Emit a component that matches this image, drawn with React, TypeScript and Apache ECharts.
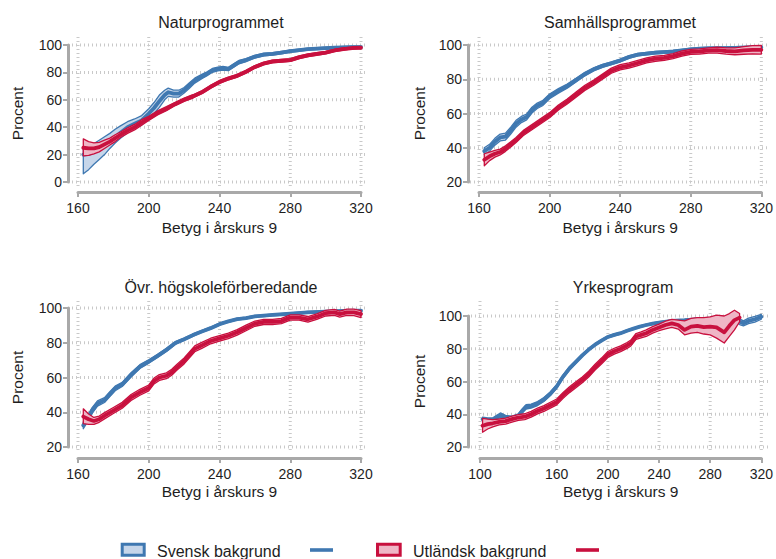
import React, { useEffect, useRef } from "react";
import * as echarts from "echarts";

const FONT = '"Liberation Sans", Arial, Helvetica, sans-serif';
const TEXT = "#1e1e1e";
const AXIS_GREY = "#a9a9a9";
const GRID_GREY = "#c9c9c9";
const BLUE = "#3f78b1";
const BLUE_FILL = "#c6d6ea";
const RED = "#c8103e";
const RED_FILL = "#efb6c6";

const X_NAME = "Betyg i årskurs 9";
const Y_NAME = "Procent";
const LEGEND_SV = "Svensk bakgrund";
const LEGEND_UT = "Utländsk bakgrund";

// Tick labels
const gpTicks = [160, 200, 240, 280, 320];
const yrkTicks = [100, 160, 200, 240, 280, 320];
const natYTicks = [0, 20, 40, 60, 80, 100];
const pctTicks = [20, 40, 60, 80, 100];

// Naturprogrammet – svensk bakgrund
const natSvX = [163, 166, 169, 172, 175, 178, 181, 184, 188, 192, 196, 200, 203, 206, 209, 211, 214, 217, 220, 223, 226, 230, 233, 236, 239, 242, 245, 248, 251, 255, 260, 265, 270, 275, 280, 285, 290, 295, 300, 305, 310, 315, 320];
const natSvMid = [20, 20.5, 22, 24, 26.5, 29.5, 32.5, 36, 40, 42.5, 45, 50, 54, 59, 63.5, 65.5, 64.5, 64.5, 67, 70.5, 74, 77, 79, 81.5, 82.5, 83, 82.5, 85, 87.5, 89, 91.5, 93, 93.5, 94.5, 95.5, 96.2, 97, 97.4, 97.7, 98, 98.2, 98.4, 98.5];
const natSvLo = [6, 9, 13, 16.5, 20, 24.5, 28.5, 32, 36, 39, 41.5, 46.5, 50, 54.5, 60, 62.5, 62, 62, 65, 68.5, 72.2, 75.4, 77.6, 80.1, 81.1, 81.6, 81.3, 83.8, 86.3, 87.9, 90.5, 92, 92.6, 93.6, 94.7, 95.4, 96.3, 96.7, 97, 97.3, 97.5, 97.7, 97.9];
const natSvHi = [26, 26, 28, 30.5, 33, 35.5, 38.5, 41, 44, 46, 48.5, 53.5, 58, 63.5, 67, 68.5, 67, 67, 69, 72.5, 75.8, 78.6, 80.4, 82.9, 83.9, 84.4, 83.7, 86.2, 88.7, 90.1, 92.5, 94, 94.4, 95.4, 96.3, 97, 97.7, 98.1, 98.4, 98.7, 98.9, 99.1, 99.1];

// Naturprogrammet – utländsk bakgrund
const natUtX = [163, 166, 169, 172, 175, 178, 181, 184, 188, 192, 196, 200, 205, 210, 215, 220, 225, 230, 235, 240, 245, 250, 255, 260, 265, 270, 275, 280, 285, 290, 295, 300, 305, 310, 315, 320];
const natUtMid = [25, 24.5, 24.5, 25.5, 27.5, 29.5, 32, 34.5, 37.5, 40, 43.5, 46.5, 50.5, 53.5, 57, 60, 62.5, 65.5, 69.5, 73, 75.5, 77.5, 80.5, 84, 86.5, 88, 88.5, 89, 91, 92.5, 93.5, 94.5, 96, 97, 97.8, 98];
const natUtLo = [19, 19.5, 20.5, 22, 24.5, 27, 29.5, 32.5, 35.5, 38, 41.5, 45, 49, 52, 55.8, 58.8, 61.3, 64.4, 68.4, 71.9, 74.5, 76.5, 79.5, 83, 85.5, 87, 87.5, 88, 90, 91.5, 92.5, 93.6, 95.2, 96.2, 97.1, 97.3];
const natUtHi = [31.5, 29.5, 28.5, 29, 30.5, 32, 34.5, 36.5, 39.5, 42, 45.5, 48, 52, 55, 58.2, 61.2, 63.7, 66.6, 70.6, 74.1, 76.5, 78.5, 81.5, 85, 87.5, 89, 89.5, 90, 92, 93.5, 94.5, 95.4, 96.8, 97.8, 98.5, 98.7];

// Samhällsprogrammet – svensk bakgrund
const samSvX = [163, 166, 169, 172, 175, 178, 181, 184, 187, 190, 193, 196, 200, 205, 210, 215, 220, 225, 230, 235, 240, 245, 250, 255, 260, 265, 270, 275, 280, 285, 290, 300, 310, 320];
const samSvMid = [38, 40, 43.5, 46, 46.5, 50, 54, 56.5, 58, 62, 64.5, 66, 70, 73.2, 76, 79.5, 83, 85.8, 87.8, 89.3, 90.9, 93, 94.4, 95, 95.5, 95.8, 96.2, 96.8, 97.5, 97.8, 98, 98.2, 98.5, 98.7];
const samSvLo = [36, 38, 41.5, 44, 44.5, 48, 52, 54.7, 56.3, 60.3, 62.9, 64.5, 68.6, 71.9, 74.8, 78.4, 82, 84.9, 86.9, 88.5, 90.1, 92.2, 93.7, 94.3, 94.8, 95.1, 95.5, 96.1, 96.8, 97.1, 97.3, 97.5, 97.8, 97.9];
const samSvHi = [40, 42, 45.5, 48, 48.5, 52, 56, 58.3, 59.7, 63.7, 66.1, 67.5, 71.4, 74.5, 77.2, 80.6, 84, 86.7, 88.7, 90.1, 91.7, 93.8, 95.1, 95.7, 96.2, 96.5, 96.9, 97.5, 98.2, 98.5, 98.7, 98.9, 99.2, 99.5];

// Samhällsprogrammet – utländsk bakgrund
const samUtX = [163, 166, 169, 172, 175, 178, 181, 185, 190, 195, 200, 205, 210, 215, 220, 225, 230, 235, 240, 245, 250, 255, 260, 265, 270, 275, 280, 285, 290, 295, 300, 305, 310, 315, 320];
const samUtMid = [33, 35, 36.5, 37.5, 39.5, 42, 44.5, 48.5, 52, 55.5, 59, 63.5, 67, 71, 75, 78, 81.5, 85, 87, 88, 89.5, 91, 92, 92.5, 93.5, 95, 96, 96.2, 96.8, 97, 96.5, 96.3, 96.8, 97.2, 97.2];
const samUtLo = [29.5, 32.5, 34.5, 35.8, 37.9, 40.5, 43, 47, 50.5, 54, 57.5, 62, 65.5, 69.5, 73.5, 76.5, 80, 83.5, 85.5, 86.5, 88, 89.5, 90.5, 91, 92, 93.5, 94.5, 94.7, 95.3, 95.3, 94.7, 94.3, 94.6, 94.8, 94.7];
const samUtHi = [36.5, 37.5, 38.5, 39.2, 41.1, 43.5, 46, 50, 53.5, 57, 60.5, 65, 68.5, 72.5, 76.5, 79.5, 83, 86.5, 88.5, 89.5, 91, 92.5, 93.5, 94, 95, 96.5, 97.5, 97.7, 98.3, 98.7, 98.3, 98.3, 99, 99.6, 99.7];

// Övr. högskoleförberedande – svensk bakgrund
const ovrSvX = [163, 166, 168, 171, 175, 178, 181, 185, 190, 195, 200, 205, 210, 215, 220, 225, 230, 235, 240, 245, 250, 255, 260, 265, 270, 280, 290, 300, 310, 320];
const ovrSvMid = [32.5, 37.3, 41, 45, 47, 50.4, 53.7, 56, 61.5, 66.3, 69.2, 72.5, 75.9, 79.8, 82, 84.4, 86.5, 88.4, 90.7, 92.3, 93.6, 94.2, 95.2, 95.6, 96, 96.7, 97.5, 97.9, 98.3, 98.5];
const ovrSvLo = [30.5, 35.5, 39.3, 43.5, 45.6, 49, 52.4, 54.8, 60.3, 65.2, 68.2, 71.6, 75, 79, 81.3, 83.7, 85.9, 87.8, 90.1, 91.8, 93.1, 93.7, 94.7, 95.1, 95.5, 96.2, 97, 97.4, 97.8, 98];
const ovrSvHi = [34.5, 39.1, 42.7, 46.5, 48.4, 51.8, 55, 57.2, 62.7, 67.4, 70.2, 73.4, 76.8, 80.6, 82.7, 85.1, 87.1, 89, 91.3, 92.8, 94.1, 94.7, 95.7, 96.1, 96.5, 97.2, 98, 98.4, 98.8, 99];

// Övr. högskoleförberedande – utländsk bakgrund
const ovrUtX = [163, 166, 169, 172, 175, 180, 185, 190, 195, 200, 203, 206, 210, 213, 216, 220, 223, 226, 230, 235, 240, 245, 250, 255, 260, 265, 270, 275, 280, 285, 290, 295, 300, 305, 308, 312, 316, 320];
const ovrUtMid = [37.5, 36, 35, 36, 38, 41, 44, 48.5, 51.5, 54, 58, 60, 61, 63, 66, 69.5, 73, 76.5, 78.5, 81, 82.5, 84, 86, 88.5, 91, 92, 92, 92.5, 94.5, 94.5, 93.5, 95, 97, 97.5, 96.5, 97.5, 97.5, 96.5];
const ovrUtLo = [33.5, 33, 33, 34.2, 36.2, 39.3, 42.3, 46.8, 49.8, 52.3, 56.3, 58.3, 59.3, 61.3, 64.3, 67.8, 71.3, 74.8, 76.8, 79.4, 80.9, 82.4, 84.4, 86.9, 89.5, 90.5, 90.5, 91, 93, 93, 91.9, 93.4, 95.4, 95.8, 94.8, 95.7, 95.6, 94.5];
const ovrUtHi = [42, 39, 37, 37.8, 39.8, 42.7, 45.7, 50.2, 53.2, 55.7, 59.7, 61.7, 62.7, 64.7, 67.7, 71.2, 74.7, 78.2, 80.2, 82.6, 84.1, 85.6, 87.6, 90.1, 92.5, 93.5, 93.5, 94, 96, 96, 95.1, 96.6, 98.6, 99.2, 98.2, 99.3, 99.4, 98.5];

// Yrkesprogram – svensk bakgrund
const yrkSvX = [102, 106, 110, 113, 116, 120, 125, 130, 133, 136, 140, 145, 150, 155, 160, 165, 170, 175, 180, 185, 190, 195, 200, 205, 210, 215, 220, 225, 230, 235, 240, 250, 260, 270, 280, 290, 295, 300, 303, 306, 310, 315, 320];
const yrkSvMid = [37, 36.5, 36.5, 38, 39.5, 38, 37.5, 39, 42, 44.5, 45, 46.5, 49, 52.5, 57, 63, 68, 72, 76, 79.5, 82.5, 85, 87.2, 88.5, 89.5, 91, 92.3, 93.5, 94.5, 95.3, 96, 97, 97.4, 98, 98.3, 98.2, 98, 97.4, 96.5, 95.5, 97, 98, 99.5];
const yrkSvLo = [35.7, 35.2, 35.2, 36.7, 38.2, 36.7, 36.2, 37.7, 40.7, 43.2, 43.8, 45.3, 47.8, 51.4, 55.9, 62, 67, 71.1, 75.2, 78.8, 81.8, 84.4, 86.6, 87.9, 89, 90.5, 91.8, 93, 94, 94.8, 95.5, 96.5, 96.8, 97.3, 97.5, 97.3, 96.8, 96, 94.8, 94, 95.3, 96.3, 98];
const yrkSvHi = [38.3, 37.8, 37.8, 39.3, 40.8, 39.3, 38.8, 40.3, 43.3, 45.8, 46.2, 47.7, 50.2, 53.6, 58.1, 64, 69, 72.9, 76.8, 80.2, 83.2, 85.6, 87.8, 89.1, 90, 91.5, 92.8, 94, 95, 95.8, 96.5, 97.5, 98, 98.7, 99.1, 99.1, 99.2, 98.8, 98.2, 97, 98.7, 99.7, 101];

// Yrkesprogram – utländsk bakgrund
const yrkUtX = [102, 106, 110, 115, 120, 125, 130, 135, 140, 145, 150, 155, 160, 165, 170, 175, 180, 185, 190, 195, 200, 205, 210, 215, 218, 222, 226, 230, 235, 240, 245, 250, 255, 260, 265, 270, 275, 280, 285, 291, 295, 299, 303];
const yrkUtMid = [33, 34, 34.5, 35.3, 35.8, 37, 38, 38.5, 40, 42, 43.5, 45.5, 47.5, 51.5, 55, 58, 61, 64.5, 68.8, 72.5, 76.5, 78.5, 80, 82, 83.5, 87.5, 88.5, 89.5, 91.5, 93, 94.5, 95.5, 94.5, 91.5, 93.5, 94, 93.2, 93.5, 93, 90, 94, 97.5, 99];
const yrkUtLo = [29, 31, 32.3, 33.5, 34, 35.2, 36.2, 36.7, 38.2, 40.2, 41.7, 43.7, 45.7, 49.7, 53.2, 56.2, 59.2, 62.7, 67, 70.7, 74.7, 76.7, 78.2, 80.2, 81.7, 85.7, 86.7, 87.5, 89.5, 91, 92.2, 93, 92, 88.5, 89.5, 90, 89, 88.5, 86.5, 83.5, 87.5, 91.5, 96.5];
const yrkUtHi = [37.5, 37, 36.7, 37.1, 37.6, 38.8, 39.8, 40.3, 41.8, 43.8, 45.3, 47.3, 49.3, 53.3, 56.8, 59.8, 62.8, 66.3, 70.6, 74.3, 78.3, 80.3, 81.8, 83.8, 85.3, 89.3, 90.3, 91.5, 93.5, 95, 96.8, 98, 97.5, 97, 98.5, 99, 99, 99.5, 100.5, 100, 101.5, 103.5, 101.5];

type Band = { x: number[]; mid: number[]; lo: number[]; hi: number[] };
type Panel = {
  title: string;
  titleX: number;
  titleY: number;
  grid: { left: number; top: number; width: number; height: number };
  region: { left: number; right: number; top: number; bottom: number };
  xMin: number;
  xMax: number;
  xTicks: number[];
  yMin: number;
  yMax: number;
  yTicks: number[];
  xOffset: number;
  yOffset: number;
  yNameGap: number;
  xNameGap: number;
  sv: Band;
  ut: Band;
};

const panels: Panel[] = [
  {
    title: "Naturprogrammet",
    titleX: 221,
    titleY: 22,
    grid: { left: 78, top: 45, width: 283, height: 137 },
    region: { left: 72, right: 368, top: 37, bottom: 187 },
    xMin: 160, xMax: 320, xTicks: gpTicks,
    yMin: 0, yMax: 100, yTicks: natYTicks,
    xOffset: 10, yOffset: 10, yNameGap: 43, xNameGap: 27,
    sv: { x: natSvX, mid: natSvMid, lo: natSvLo, hi: natSvHi },
    ut: { x: natUtX, mid: natUtMid, lo: natUtLo, hi: natUtHi },
  },
  {
    title: "Samhällsprogrammet",
    titleX: 620,
    titleY: 22,
    grid: { left: 479, top: 45, width: 285, height: 137 },
    region: { left: 470, right: 768, top: 37, bottom: 187 },
    xMin: 160, xMax: 320, xTicks: gpTicks,
    yMin: 20, yMax: 100, yTicks: pctTicks,
    xOffset: 10, yOffset: 11, yNameGap: 41, xNameGap: 27,
    sv: { x: samSvX, mid: samSvMid, lo: samSvLo, hi: samSvHi },
    ut: { x: samUtX, mid: samUtMid, lo: samUtLo, hi: samUtHi },
  },
  {
    title: "Övr. högskoleförberedande",
    titleX: 221,
    titleY: 287,
    grid: { left: 78, top: 308, width: 283, height: 139 },
    region: { left: 72, right: 367, top: 301, bottom: 451 },
    xMin: 160, xMax: 320, xTicks: gpTicks,
    yMin: 20, yMax: 100, yTicks: pctTicks,
    xOffset: 11, yOffset: 10, yNameGap: 43, xNameGap: 25,
    sv: { x: ovrSvX, mid: ovrSvMid, lo: ovrSvLo, hi: ovrSvHi },
    ut: { x: ovrUtX, mid: ovrUtMid, lo: ovrUtLo, hi: ovrUtHi },
  },
  {
    title: "Yrkesprogram",
    titleX: 623,
    titleY: 287,
    grid: { left: 480, top: 316, width: 284, height: 131 },
    region: { left: 471, right: 768, top: 301, bottom: 452 },
    xMin: 100, xMax: 320, xTicks: yrkTicks,
    yMin: 20, yMax: 100, yTicks: pctTicks,
    xOffset: 11, yOffset: 12, yNameGap: 41, xNameGap: 25,
    sv: { x: yrkSvX, mid: yrkSvMid, lo: yrkSvLo, hi: yrkSvHi },
    ut: { x: yrkUtX, mid: yrkUtMid, lo: yrkUtLo, hi: yrkUtHi },
  },
];

const labelStyle = { color: TEXT, fontFamily: FONT, fontSize: 14 };
const nameStyle = { color: TEXT, fontFamily: FONT, fontSize: 15.5 };

function gridLineSeries(gi: number, p: Panel): any[] {
  const dash = { stroke: GRID_GREY, lineWidth: 3, lineDash: [1, 3] };
  return [
    {
      type: "custom",
      xAxisIndex: gi,
      yAxisIndex: gi,
      z: 1,
      silent: true,
      data: p.yTicks.map((v) => [p.xMin, v]),
      renderItem: (_params: any, api: any) => {
        const y = api.coord([api.value(0), api.value(1)])[1];
        return {
          type: "line",
          shape: { x1: p.region.left, y1: y, x2: p.region.right, y2: y },
          style: dash,
        };
      },
    },
    {
      type: "custom",
      xAxisIndex: gi,
      yAxisIndex: gi,
      z: 1,
      silent: true,
      data: p.xTicks.map((v) => [v, p.yMin]),
      renderItem: (_params: any, api: any) => {
        const x = api.coord([api.value(0), api.value(1)])[0];
        return {
          type: "line",
          shape: { x1: x, y1: p.region.top, x2: x, y2: p.region.bottom },
          style: dash,
        };
      },
    },
  ];
}

// Confidence band drawn as one closed polygon (upper edge forward, lower edge back)
function bandSeries(gi: number, b: Band, fill: string, stroke: string, z: number): any {
  return {
    type: "custom",
    xAxisIndex: gi,
    yAxisIndex: gi,
    z,
    silent: true,
    data: b.x.map((x, i) => [x, b.lo[i], b.hi[i]]),
    encode: { x: 0, y: [1, 2] },
    renderItem: (params: any, api: any) => {
      if (params.dataIndex !== 0) return null;
      const upper = b.x.map((x, i) => api.coord([x, b.hi[i]]));
      const lower = b.x.map((x, i) => api.coord([x, b.lo[i]])).reverse();
      return {
        type: "polygon",
        shape: { points: upper.concat(lower) },
        style: { fill, stroke, lineWidth: 1.3, lineJoin: "round" },
      };
    },
  };
}

function lineSeries(gi: number, b: Band, color: string, z: number): any {
  return {
    type: "line",
    xAxisIndex: gi,
    yAxisIndex: gi,
    z,
    silent: true,
    clip: false,
    symbol: "none",
    data: b.x.map((x, i) => [x, b.mid[i]]),
    lineStyle: { color, width: 3.8, cap: "round", join: "round" },
  };
}

function buildOption(): any {
  const grid = panels.map((p) => ({ ...p.grid, containLabel: false }));
  const xAxis = panels.map((p, gi) => ({
    type: "value",
    gridIndex: gi,
    min: p.xMin,
    max: p.xMax,
    offset: p.xOffset,
    axisLine: { show: true, onZero: false, lineStyle: { color: AXIS_GREY, width: 3 } },
    axisTick: { show: true, length: 5, customValues: p.xTicks, lineStyle: { color: AXIS_GREY, width: 2 } },
    axisLabel: { ...labelStyle, customValues: p.xTicks, margin: 9 },
    splitLine: { show: false },
    name: X_NAME,
    nameLocation: "middle",
    nameGap: p.xNameGap,
    nameTextStyle: nameStyle,
  }));
  const yAxis = panels.map((p, gi) => ({
    type: "value",
    gridIndex: gi,
    min: p.yMin,
    max: p.yMax,
    offset: p.yOffset,
    axisLine: { show: true, onZero: false, lineStyle: { color: AXIS_GREY, width: 3 } },
    axisTick: { show: true, length: 5, customValues: p.yTicks, lineStyle: { color: AXIS_GREY, width: 2 } },
    axisLabel: { ...labelStyle, customValues: p.yTicks, margin: 6 },
    splitLine: { show: false },
    name: Y_NAME,
    nameLocation: "middle",
    nameGap: p.yNameGap,
    nameTextStyle: nameStyle,
  }));

  const series: any[] = [];
  panels.forEach((p, gi) => {
    series.push(...gridLineSeries(gi, p));
    series.push(bandSeries(gi, p.sv, BLUE_FILL, BLUE, 2));
    series.push(lineSeries(gi, p.sv, BLUE, 3));
    series.push(bandSeries(gi, p.ut, RED_FILL, RED, 4));
    series.push(lineSeries(gi, p.ut, RED, 5));
  });

  const titles = panels.map((p) => ({
    type: "text",
    x: p.titleX,
    y: p.titleY,
    silent: true,
    style: { text: p.title, font: `16px ${FONT}`, fill: TEXT, align: "center", verticalAlign: "middle" },
  }));

  const legend = [
    { type: "rect", shape: { x: 122.2, y: 544.2, width: 22, height: 11 }, style: { fill: BLUE_FILL, stroke: BLUE, lineWidth: 3 } },
    { type: "text", x: 157, y: 551, style: { text: LEGEND_SV, font: `16px ${FONT}`, fill: TEXT, align: "left", verticalAlign: "middle" } },
    { type: "line", shape: { x1: 310, y1: 550, x2: 333, y2: 550 }, style: { stroke: BLUE, lineWidth: 3.6 } },
    { type: "rect", shape: { x: 377.5, y: 544.2, width: 22.7, height: 11 }, style: { fill: RED_FILL, stroke: RED, lineWidth: 3 } },
    { type: "text", x: 413, y: 551, style: { text: LEGEND_UT, font: `16px ${FONT}`, fill: TEXT, align: "left", verticalAlign: "middle" } },
    { type: "line", shape: { x1: 576, y1: 550, x2: 599, y2: 550 }, style: { stroke: RED, lineWidth: 3.6 } },
  ];

  return {
    animation: false,
    backgroundColor: "#ffffff",
    textStyle: { fontFamily: FONT },
    grid,
    xAxis,
    yAxis,
    series,
    graphic: [...titles, ...legend.map((e) => ({ ...e, silent: true }))],
  };
}

export default function App() {
  const ref = useRef<HTMLDivElement>(null);
  useEffect(() => {
    const chart = echarts.init(ref.current!, null, { renderer: "svg" });
    chart.setOption(buildOption());
    return () => chart.dispose();
  }, []);
  return <div ref={ref} style={{ position: "fixed", left: 0, top: 0, width: 776, height: 559 }} />;
}
